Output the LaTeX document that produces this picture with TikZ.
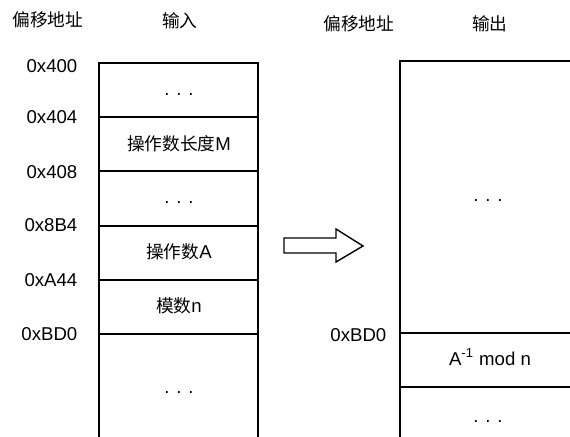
\documentclass[tikz,border=0pt]{standalone}
\usepackage{fontspec}
\setmainfont{Liberation Sans}
\newfontfamily\cjk{Noto Sans CJK SC}[Scale=0.95]

\begin{document}
\begin{tikzpicture}[x=0.5pt,y=-0.5pt,line width=0.7pt,
  every node/.style={font=\fontsize{9.3}{11}\selectfont,inner sep=0pt},
  addr/.style={anchor=east},
  cell/.style={text height=0.72em,text depth=0.2em}]
  \useasboundingbox (0,0) rectangle (570,437);
  % headings
  \node (offL) at (48,20) {\cjk 偏移地址};
  \node (inTitle) at (180,21) {\cjk 输入};
  \node (offR) at (359,24) {\cjk 偏移地址};
  \node (outTitle) at (490,24) {\cjk 输出};
  % input column
  \draw (99,437) -- (99,63) -- (258,63) -- (258,437);
  \foreach \y in {117,171,226,280,334}
    \draw (99,\y) -- (258,\y);
  \node[addr] (a400) at (78,66) {0x400};
  \node[addr] (a404) at (78,117) {0x404};
  \node[addr] (a408) at (78,172) {0x408};
  \node[addr] (a8B4) at (78,225) {0x8B4};
  \node[addr] (aA44) at (78,280) {0xA44};
  \node[addr] (aBD0) at (78,334) {0xBD0};
  \node[cell] (inDots1) at (179,90) {. . .};
  \node[cell] (inLen) at (179,145) {{\cjk 操作数长度}M};
  \node[cell] (inDots2) at (179,198) {. . .};
  \node[cell] (inA) at (179,253) {{\cjk 操作数}A};
  \node[cell] (inN) at (179,307) {{\cjk 模数}n};
  \node[cell] (inDots3) at (179,388) {. . .};
  % transfer arrow
  \draw (284,238) -- (336,238) -- (336,229) -- (363,246) -- (336,262)
    -- (336,253) -- (284,253) -- cycle;
  % output column
  \draw (400,437) -- (400,61) -- (570,61);
  \foreach \y in {333,387}
    \draw (400,\y) -- (570,\y);
  \node[addr] (oBD0) at (387,335) {0xBD0};
  \node[cell] (outDots1) at (488,196) {. . .};
  \node[cell] (outInv) at (490,360) {A\textsuperscript{-1} mod n};
  \node[cell] (outDots2) at (488,417) {. . .};
\end{tikzpicture}
\end{document}
